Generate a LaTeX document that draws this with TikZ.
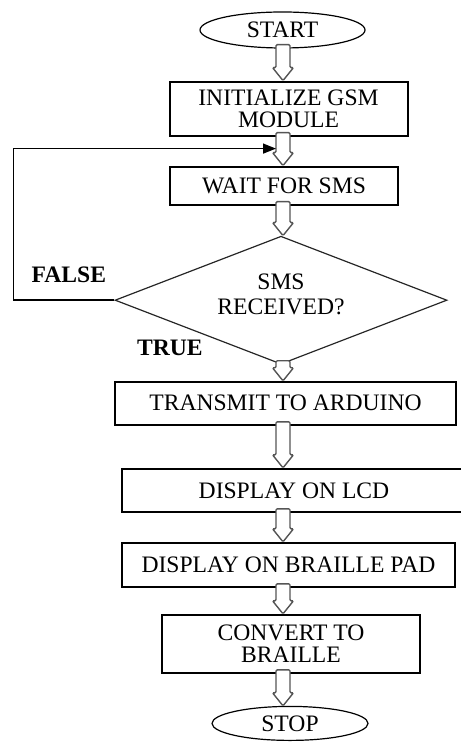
\documentclass[tikz,border=0pt]{standalone}
\usepackage{fontspec}
\setmainfont{Liberation Serif}
\usetikzlibrary{arrows.meta,positioning,calc,shapes.geometric}
\definecolor{flowgray}{RGB}{85,85,85}

\begin{document}
\begin{tikzpicture}[>=Latex,node distance=15pt,
  every node/.style={font=\fontsize{11.8}{10.8}\selectfont,align=center,inner sep=0pt},
  box/.style={draw,line width=1pt,minimum height=21.5pt},
  term/.style={draw,ellipse,line width=0.6pt,minimum width=82.5pt,minimum height=18pt},
  decide/.style={draw=black!85,diamond,aspect=2.6,line width=0.6pt,minimum width=166pt,minimum height=64pt,font=\fontsize{11.8}{12.5}\selectfont},
  flag/.style={font=\bfseries\fontsize{11.8}{12}\selectfont},
  flow/.style={draw=flowgray,line width=0.7pt,fill=white,rounded corners=0.6pt}]
\useasboundingbox (0,0) rectangle (230pt,-373.5pt);
\coordinate (axis) at (141.5pt,0);
\node[term] (start) at (141.25pt,-15pt) {START};
\node[box,below=16pt of start,xshift=3pt,minimum width=119pt,minimum height=27pt] (init) {INITIALIZE GSM\\MODULE};
\node[box,below=14.5pt of init,xshift=-2.25pt,minimum width=114pt,minimum height=19pt] (wait) {WAIT FOR SMS};
\node[decide,below=15pt of wait,xshift=-1.5pt] (dec) {SMS\\RECEIVED?\\[-6pt]\mbox{}};
\node[box,below=8pt of dec,xshift=2.25pt,minimum width=170.5pt] (send) {TRANSMIT TO ARDUINO};
\node[box,below=21pt of send,xshift=4.25pt,minimum width=172pt] (lcd) {DISPLAY ON LCD};
\node[box,below=14.5pt of lcd,xshift=-2.75pt,minimum width=166.5pt,minimum height=22pt] (pad) {DISPLAY ON BRAILLE PAD};
\node[box,below=13pt of pad,xshift=1.25pt,minimum width=129pt,minimum height=29pt] (conv) {CONVERT TO\\BRAILLE};
\node[term,below=16pt of conv,xshift=-0.5pt,minimum width=78pt,minimum height=17pt] (stop) {STOP};
\node[flag,above left=8.5pt and 4pt of dec.west] (no) {FALSE};
\node[flag,above left=4.5pt and 39pt of dec.south] (yes) {TRUE};
% hollow arrows down the column
\foreach \a/\b in {start/init,init/wait,wait/dec,dec/send,send/lcd,lcd/pad,pad/conv,conv/stop}
  \draw[flow] ($(\a.south -| axis)+(-3.5pt,2pt)$) -- ($(\b.north -| axis)+(-3.5pt,6.5pt)$) -- ++(-1.75pt,0)
    -- (\b.north -| axis) -- ++(5.25pt,6.5pt) -- ++(-1.75pt,0) -- ($(\a.south -| axis)+(3.5pt,2pt)$) -- cycle;
% back to waiting
\coordinate (back) at ($(init.south -| axis)+(-3.5pt,-6pt)$);
\draw[line width=0.7pt,-{Triangle[length=6.5pt,width=5pt]}] (dec.west) -- ++(-50.5pt,0) |- (back);
\end{tikzpicture}
\end{document}
